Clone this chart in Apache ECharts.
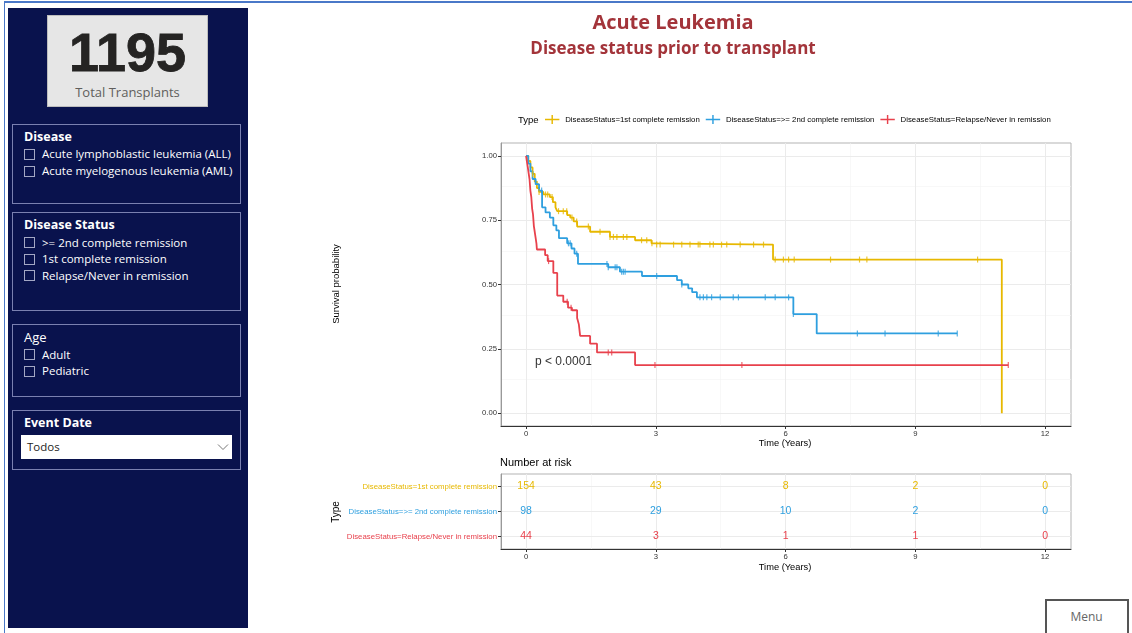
<!DOCTYPE html>
<html><head><meta charset="utf-8">
<script src="https://cdn.jsdelivr.net/npm/echarts@6/dist/echarts.min.js"></script>
<style>
html,body{margin:0;padding:0;}
body{width:1132px;height:633px;overflow:hidden;background:#fff;position:relative;font-family:"Open Sans","Noto Sans",sans-serif;}
#frame{position:absolute;left:4px;top:1px;width:1140px;height:640px;border-left:1.5px solid #4A78C8;border-top:2px solid #4A78C8;box-sizing:border-box;}
#side{position:absolute;left:8px;top:8px;width:240px;height:620px;background:#09124D;}
.abs{position:absolute;}
#kpi{position:absolute;left:47px;top:15px;width:161px;height:92px;background:#E6E6E6;border:1px solid #BDBDBD;box-sizing:border-box;}
.box{position:absolute;left:12px;width:229px;border:1px solid #7A80B0;box-sizing:border-box;}
.t{position:absolute;color:#fff;line-height:16px;white-space:nowrap;}
.ttl{font-weight:700;font-size:12.5px;}
.item{font-size:11.5px;}
.cb{position:absolute;width:11px;height:11px;border:1px solid #A3A7C4;box-sizing:border-box;}
#dd{position:absolute;left:21px;top:435px;width:211px;height:24px;background:#fff;}
#menu{position:absolute;left:1045px;top:599px;width:84px;height:40px;border:2.5px solid #555;box-sizing:border-box;background:#fff;}
#chart{position:absolute;left:0;top:0;width:1132px;height:633px;z-index:5;}
</style></head>
<body>
<div id="frame"></div>
<div id="side"></div>
<div id="kpi">
  <div class="abs" style="left:0;width:159px;top:8px;line-height:56px;text-align:center;font-family:'Liberation Sans',Arial,sans-serif;font-weight:700;font-size:54px;color:#252423;-webkit-text-stroke:0.8px #252423;">1195</div>
  <div class="abs" style="left:0;width:159px;top:67px;line-height:18px;text-align:center;font-size:13px;color:#605E5C;">Total Transplants</div>
</div>
<div class="box" style="top:124px;height:80px;"></div>
<div class="t ttl" style="left:24px;top:129px;">Disease</div>
<div class="cb" style="left:24px;top:149px;"></div><div class="t item" style="left:42px;top:146px;">Acute lymphoblastic leukemia (ALL)</div>
<div class="cb" style="left:24px;top:166px;"></div><div class="t item" style="left:42px;top:163px;">Acute myelogenous leukemia (AML)</div>

<div class="box" style="top:212px;height:99px;"></div>
<div class="t ttl" style="left:24px;top:217px;">Disease Status</div>
<div class="cb" style="left:24px;top:237px;"></div><div class="t item" style="left:42px;top:235px;">&gt;= 2nd complete remission</div>
<div class="cb" style="left:24px;top:254px;"></div><div class="t item" style="left:42px;top:251px;">1st complete remission</div>
<div class="cb" style="left:24px;top:270px;"></div><div class="t item" style="left:42px;top:268px;">Relapse/Never in remission</div>

<div class="box" style="top:324px;height:73px;"></div>
<div class="t" style="left:24px;top:329px;font-size:13px;">Age</div>
<div class="cb" style="left:24px;top:349px;"></div><div class="t item" style="left:42px;top:347px;">Adult</div>
<div class="cb" style="left:24px;top:366px;"></div><div class="t item" style="left:42px;top:363px;">Pediatric</div>

<div class="box" style="top:410px;height:60px;"></div>
<div class="t ttl" style="left:24px;top:415px;">Event Date</div>
<div id="dd">
  <div class="abs" style="left:6px;top:4px;line-height:16px;font-size:11.5px;color:#252423;">Todos</div>
  <svg class="abs" style="left:196px;top:8px;" width="12" height="8"><polyline points="1,1.5 6,6.5 11,1.5" fill="none" stroke="#777" stroke-width="1"/></svg>
</div>
<div id="menu"><div class="abs" style="left:0;width:79px;top:8px;line-height:16px;text-align:center;font-size:12px;color:#666;">Menu</div></div>
<div id="chart"></div>
<script>
// ---------- data ----------
const groupNames = ['DiseaseStatus=1st complete remission', 'DiseaseStatus=>= 2nd complete remission', 'DiseaseStatus=Relapse/Never in remission'];
const xTicks = [0, 3, 6, 9, 12];
const yTicks = [0, 0.25, 0.5, 0.75, 1];

const firstCR_time = [0, 0.05, 0.1, 0.15, 0.2, 0.25, 0.3, 0.4, 0.55, 0.62, 0.68, 0.72, 0.95, 1.02, 1.1, 1.18, 1.48, 1.94, 2.52, 2.9, 3.0, 5.71, 11.0];
const firstCR_surv = [1, 0.98, 0.955, 0.93, 0.9, 0.875, 0.86, 0.85, 0.84, 0.82, 0.80, 0.785, 0.77, 0.76, 0.745, 0.725, 0.705, 0.685, 0.672, 0.66, 0.655, 0.597, 0];
const firstCR_censor = [0.15, 0.3, 0.45, 0.5, 0.6, 0.75, 0.86, 0.94, 1.06, 1.17, 1.44, 1.71, 1.94, 2.02, 2.10, 2.25, 2.33, 2.67, 2.79, 2.91, 3.02, 3.10, 3.41, 3.6, 3.79, 3.98, 4.02, 4.25, 4.33, 4.52, 4.64, 4.95, 5.26, 5.49, 5.76, 5.95, 6.07, 6.2, 7.04, 7.71, 7.88, 10.44];

const secondCR_time = [0, 0.05, 0.1, 0.15, 0.22, 0.3, 0.37, 0.45, 0.55, 0.63, 0.7, 0.76, 0.95, 1.05, 1.12, 1.2, 1.9, 2.17, 2.68, 3.49, 3.6, 3.75, 3.84, 3.95, 6.18, 6.72, 9.97];
const secondCR_surv = [1, 0.97, 0.94, 0.91, 0.89, 0.865, 0.80, 0.78, 0.76, 0.73, 0.71, 0.68, 0.66, 0.64, 0.62, 0.58, 0.567, 0.55, 0.533, 0.517, 0.50, 0.485, 0.47, 0.45, 0.385, 0.31, 0.31];
const secondCR_censor = [0.36, 0.98, 1.02, 1.17, 1.87, 1.90, 2.06, 2.10, 2.21, 2.25, 2.29, 3.02, 3.6, 4.02, 4.1, 4.18, 4.29, 4.49, 4.79, 4.91, 5.53, 5.76, 6.07, 6.18, 7.66, 8.3, 9.53, 9.97];

const relapse_time = [0, 0.02, 0.04, 0.06, 0.08, 0.1, 0.12, 0.14, 0.16, 0.18, 0.2, 0.22, 0.24, 0.25, 0.44, 0.5, 0.63, 0.72, 0.86, 0.97, 1.06, 1.18, 1.22, 1.25, 1.48, 1.64, 2.52, 11.15];
const relapse_surv = [1, 0.977, 0.955, 0.932, 0.909, 0.864, 0.841, 0.795, 0.773, 0.727, 0.705, 0.682, 0.659, 0.636, 0.614, 0.591, 0.545, 0.457, 0.433, 0.41, 0.40, 0.37, 0.345, 0.30, 0.27, 0.236, 0.187, 0.187];
const relapse_censor = [0.52, 0.95, 1.04, 1.90, 1.98, 2.98, 4.99, 11.15];

const riskTimes = [0, 3, 6, 9, 12];
const risk_firstCR = [154, 43, 8, 2, 0];
const risk_secondCR = [98, 29, 10, 2, 0];
const risk_relapse = [44, 3, 1, 1, 0];

const pValueText = 'p < 0.0001';

// ---------- build ----------
const colors = ['#E7B800', '#2E9FDF', '#E8414C'];
const FONT = "'Liberation Sans', Arial, sans-serif";
const groups = [
  {t: firstCR_time, s: firstCR_surv, c: firstCR_censor, r: risk_firstCR},
  {t: secondCR_time, s: secondCR_surv, c: secondCR_censor, r: risk_secondCR},
  {t: relapse_time, s: relapse_surv, c: relapse_censor, r: risk_relapse}
];
function survAt(times, surv, t) {
  let v = surv[0];
  for (let i = 0; i < times.length; i++) if (times[i] <= t + 1e-9) v = surv[i];
  return v;
}
const xMin = -0.58, xMax = 12.6;
const majorX = [0, 3, 6, 9, 12], minorX = [1.5, 4.5, 7.5, 10.5];
const majorY = [0, 0.25, 0.5, 0.75, 1], minorY = [0.125, 0.375, 0.625, 0.875];
const majLS = {color: '#EBEBEB', width: 1, type: 'solid'};
const minLS = {color: '#F3F3F3', width: 0.6, type: 'solid'};

const series = [];
series.push({
  type: 'scatter', xAxisIndex: 0, yAxisIndex: 0, data: [], symbolSize: 0, silent: true, z: 0, zlevel: 0,
  markLine: {
    silent: true, symbol: 'none', label: {show: false}, animation: false, z: 0,
    data: [
      ...minorX.map(v => ({xAxis: v, lineStyle: minLS})),
      ...minorY.map(v => ({yAxis: v, lineStyle: minLS})),
      ...majorX.map(v => ({xAxis: v, lineStyle: majLS})),
      ...majorY.map(v => ({yAxis: v, lineStyle: majLS}))
    ]
  }
});
series.push({
  type: 'scatter', xAxisIndex: 1, yAxisIndex: 1, data: [], symbolSize: 0, silent: true, z: 0, zlevel: 0,
  markLine: {
    silent: true, symbol: 'none', label: {show: false}, animation: false, z: 0,
    data: [
      ...minorX.map(v => ({xAxis: v, lineStyle: minLS})),
      ...majorX.map(v => ({xAxis: v, lineStyle: majLS})),
      ...groupNames.map(v => ({yAxis: v, lineStyle: majLS}))
    ]
  }
});
groups.forEach((g, i) => {
  series.push({
    name: groupNames[i], type: 'line', step: 'end', xAxisIndex: 0, yAxisIndex: 0,
    data: g.t.map((t, k) => [t, g.s[k]]), showSymbol: false, symbol: 'none',
    lineStyle: {color: colors[i], width: 1.8}, itemStyle: {color: colors[i]}, z: 3, silent: true
  });
  series.push({
    name: 'censor' + i, type: 'scatter', xAxisIndex: 0, yAxisIndex: 0,
    data: g.c.map(t => [t, survAt(g.t, g.s, t)]), symbol: 'rect', symbolSize: [1.2, 6],
    itemStyle: {color: colors[i]}, z: 4, silent: true
  });
  series.push({
    name: 'risk' + i, type: 'scatter', xAxisIndex: 1, yAxisIndex: 1,
    data: riskTimes.map((t, k) => [t, groupNames[i], g.r[k]]), symbolSize: 1, z: 6, silent: true,
    itemStyle: {color: '#fff', opacity: 0},
    label: {show: true, position: 'inside', formatter: p => String(p.data[2]), color: colors[i],
      fontSize: 10.5, fontFamily: FONT, textBorderWidth: 0, textShadowBlur: 0, opacity: 1}
  });
});

function xAxisCfg(gridIndex) {
  return {
    type: 'value', gridIndex, min: xMin, max: xMax,
    axisLine: {show: true, onZero: false, lineStyle: {color: '#333', width: 1}},
    axisTick: {show: true, customValues: xTicks, length: 3, lineStyle: {color: '#333'}},
    axisLabel: {customValues: xTicks, fontSize: 7.7, color: '#333', fontFamily: FONT, margin: 4},
    splitLine: {show: false}
  };
}
const rich = {};
colors.forEach((c, i) => rich['c' + i] = {color: c, fontSize: 7.8, fontFamily: FONT});

const option = {
  animation: false,
  grid: [
    {left: 501, top: 143, width: 570, height: 283, show: true, borderColor: '#B3B3B3', borderWidth: 1},
    {left: 501, top: 474, width: 570, height: 75, show: true, borderColor: '#B3B3B3', borderWidth: 1}
  ],
  xAxis: [xAxisCfg(0), xAxisCfg(1)],
  yAxis: [
    {
      type: 'value', gridIndex: 0, min: -0.05, max: 1.05,
      axisLine: {show: true, onZero: false, lineStyle: {color: '#999', width: 1}},
      axisTick: {show: true, customValues: yTicks, length: 3, lineStyle: {color: '#333'}},
      axisLabel: {customValues: yTicks, fontSize: 7.7, color: '#333', fontFamily: FONT, margin: 4, formatter: v => v.toFixed(2)},
      splitLine: {show: false}
    },
    {
      type: 'category', gridIndex: 1, data: groupNames, inverse: true,
      axisLine: {show: true, onZero: false, lineStyle: {color: '#999', width: 1}},
      axisTick: {show: true, alignWithLabel: true, length: 3, lineStyle: {color: '#333'}},
      axisLabel: {margin: 4, formatter: (v, i) => '{c' + i + '|' + v + '}', rich},
      splitLine: {show: false}
    }
  ],
  legend: {
    data: groupNames.map((n, i) => ({name: n, icon: 'path://M0,4.3L7.2,4.3L7.2,0L8.8,0L8.8,4.3L16,4.3L16,5.7L8.8,5.7L8.8,10L7.2,10L7.2,5.7L0,5.7Z', itemStyle: {color: colors[i]}})),
    left: 545, top: 115, itemWidth: 16, itemHeight: 9, itemGap: 6, padding: 0,
    textStyle: {fontSize: 7.8, color: '#000', fontFamily: FONT},
    selectedMode: false
  },
  graphic: [
    {type: 'text', x: 673, y: 23, style: {text: 'Acute Leukemia', font: "700 20px 'Open Sans', sans-serif", fill: '#A3343A', textAlign: 'center', textVerticalAlign: 'middle'}},
    {type: 'text', x: 673, y: 49, style: {text: 'Disease status prior to transplant', font: "700 17px 'Open Sans', sans-serif", fill: '#A3343A', textAlign: 'center', textVerticalAlign: 'middle'}},
    {type: 'text', x: 518, y: 120, style: {text: 'Type', font: "9.5px " + FONT, fill: '#000', textAlign: 'left', textVerticalAlign: 'middle'}},
    {type: 'text', x: 336, y: 284, rotation: Math.PI / 2, style: {text: 'Survival probability', font: "9.5px " + FONT, fill: '#000', textAlign: 'center', textVerticalAlign: 'middle'}},
    {type: 'text', x: 785, y: 443, style: {text: 'Time (Years)', font: "9.3px " + FONT, fill: '#000', textAlign: 'center', textVerticalAlign: 'middle'}},
    {type: 'text', x: 535, y: 362, style: {text: pValueText, font: "12px " + FONT, fill: '#333', textAlign: 'left', textVerticalAlign: 'middle'}},
    {type: 'text', x: 500, y: 463, style: {text: 'Number at risk', font: "11px " + FONT, fill: '#000', textAlign: 'left', textVerticalAlign: 'middle'}},
    {type: 'text', x: 336, y: 512, rotation: Math.PI / 2, style: {text: 'Type', font: "10px " + FONT, fill: '#000', textAlign: 'center', textVerticalAlign: 'middle'}},
    {type: 'text', x: 785, y: 567, style: {text: 'Time (Years)', font: "9.3px " + FONT, fill: '#000', textAlign: 'center', textVerticalAlign: 'middle'}}
  ],
  series
};
const chart = echarts.init(document.getElementById('chart'), null, {renderer: 'canvas'});
chart.setOption(option);
</script>
</body></html>
